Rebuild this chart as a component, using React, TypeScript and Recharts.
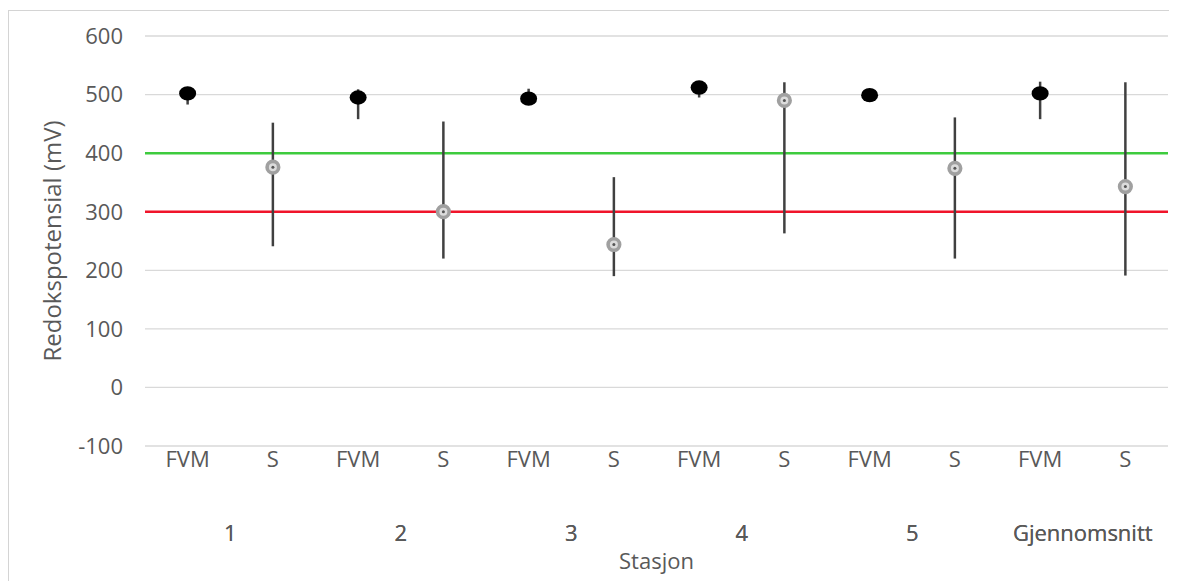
import React from "react";
import {
  ComposedChart,
  Scatter,
  XAxis,
  YAxis,
  CartesianGrid,
  ReferenceLine,
  ErrorBar,
} from "recharts";

// Stations and sample types
const stations = ["1", "2", "3", "4", "5", "Gjennomsnitt"];
const types = ["FVM", "S"];

// Mean redox potential (mV) per station
const fvmMean = [502, 495, 493, 512, 499, 502];
const sMean = [376, 300, 244, 490, 374, 343];

// Range (min / max) per station
const fvmMin = [483, 458, 488, 495, 492, 458];
const fvmMax = [510, 509, 510, 518, 505, 522];
const sMin = [241, 220, 190, 263, 220, 191];
const sMax = [452, 454, 359, 521, 461, 521];

// Threshold lines
const upperLimit = 400;
const lowerLimit = 300;

const yTicks = [-100, 0, 100, 200, 300, 400, 500, 600];

type Row = {
  key: string;
  type: string;
  station: string;
  fvm: number | null;
  s: number | null;
  fvmErr: [number, number] | null;
  sErr: [number, number] | null;
};

const rows: Row[] = [];
stations.forEach((st, i) => {
  types.forEach((t) => {
    const isF = t === "FVM";
    rows.push({
      key: `${st}-${t}`,
      type: t,
      station: st,
      fvm: isF ? fvmMean[i] : null,
      s: isF ? null : sMean[i],
      fvmErr: isF ? [fvmMean[i] - fvmMin[i], fvmMax[i] - fvmMean[i]] : null,
      sErr: isF ? null : [sMean[i] - sMin[i], sMax[i] - sMean[i]],
    });
  });
});

const FONT = "'Open Sans', sans-serif";
const TEXT = "#595959";
const TICK_SIZE = 22;

const FvmDot = (props: any) => {
  const { cx, cy, payload } = props;
  if (payload == null || payload.fvm == null || cx == null || cy == null) return <g />;
  return <ellipse cx={cx} cy={cy} rx={8.5} ry={7.2} fill="#000000" />;
};

const SDot = (props: any) => {
  const { cx, cy, payload } = props;
  if (payload == null || payload.s == null || cx == null || cy == null) return <g />;
  return (
    <g>
      <circle cx={cx} cy={cy} r={5.8} fill="#dcdcdc" stroke="#a0a0a0" strokeWidth={3.6} />
      <circle cx={cx} cy={cy} r={1.5} fill="#555555" />
    </g>
  );
};

export default function App() {
  return (
    <div style={{ position: "relative", width: 1169, height: 571, marginTop: 2 }}>
      <ComposedChart
        width={1169}
        height={571}
        data={rows}
        margin={{ top: 26, right: 9, bottom: 0, left: 0 }}
      >
        <CartesianGrid vertical={false} stroke="#d9d9d9" strokeWidth={1.3} />
        <XAxis
          dataKey="key"
          scale="band"
          height={72}
          axisLine={false}
          tickLine={false}
          tickSize={0}
          tickMargin={5}
          interval={0}
          tickFormatter={(v: string) => v.split("-")[1]}
          tick={{ fill: TEXT, fontSize: TICK_SIZE, fontFamily: FONT }}
        />
        <XAxis
          xAxisId="station"
          dataKey="station"
          scale="band"
          allowDuplicatedCategory={false}
          height={63}
          axisLine={false}
          tickLine={false}
          tickSize={0}
          tickMargin={7}
          interval={0}
          tick={{ fill: TEXT, fontSize: TICK_SIZE, fontFamily: FONT }}
          label={{
            value: "Stasjon",
            position: "insideBottom",
            offset: 12,
            fill: TEXT,
            fontSize: TICK_SIZE,
            fontFamily: FONT,
          }}
        />
        <YAxis
          width={137}
          domain={[-100, 600]}
          ticks={yTicks}
          interval={0}
          axisLine={false}
          tickLine={false}
          tickSize={0}
          tickMargin={22}
          tick={{ fill: TEXT, fontSize: TICK_SIZE, fontFamily: FONT }}
          label={{
            value: "Redokspotensial (mV)",
            angle: -90,
            position: "insideLeft",
            offset: 44,
            fill: TEXT,
            fontSize: 24,
            fontFamily: FONT,
            style: { textAnchor: "middle" },
          }}
        />
        <ReferenceLine y={upperLimit} stroke="#3ecb3e" strokeWidth={2.5} />
        <ReferenceLine y={lowerLimit} stroke="#f0142a" strokeWidth={2.5} />
        <Scatter dataKey="fvm" shape={FvmDot} isAnimationActive={false}>
          <ErrorBar
            dataKey="fvmErr"
            direction="y"
            width={0}
            stroke="#404040"
            strokeWidth={2.5}
          />
        </Scatter>
        <Scatter dataKey="s" shape={SDot} isAnimationActive={false}>
          <ErrorBar
            dataKey="sErr"
            direction="y"
            width={0}
            stroke="#404040"
            strokeWidth={2.5}
          />
        </Scatter>
      </ComposedChart>
      <div
        style={{
          position: "absolute",
          left: 0,
          top: 0,
          width: 1175,
          height: 580,
          borderTop: "1.5px solid #d4d4d4",
          borderLeft: "1.5px solid #d4d4d4",
          pointerEvents: "none",
        }}
      />
    </div>
  );
}
